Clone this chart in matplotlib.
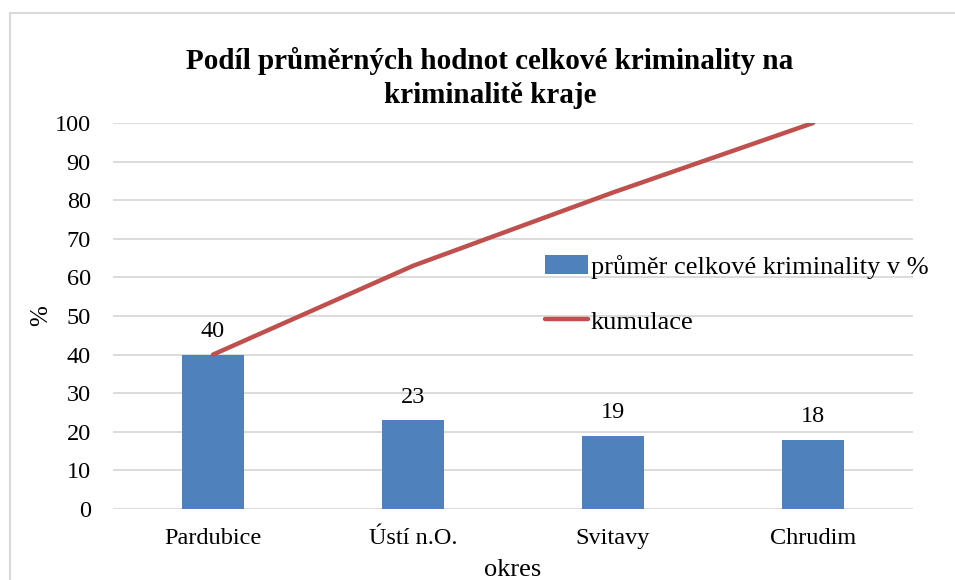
import matplotlib.pyplot as plt
from matplotlib.patches import Rectangle

categories = ["Pardubice", "Ústí n.O.", "Svitavy", "Chrudim"]
share_pct = [40, 23, 19, 18]
cumulative_pct = [40, 63, 82, 100]
yticks = list(range(0, 101, 10))

BAR_COLOR = "#4F81BD"
LINE_COLOR = "#C0504D"
GRID_COLOR = "#D9D9D9"

plt.rcParams["font.family"] = ["Liberation Serif", "DejaVu Serif"]

fig = plt.figure(figsize=(9.55, 5.8), dpi=100)
ax = fig.add_axes([113 / 955, 1 - 509 / 580, 800 / 955, 386 / 580])

# outer chart border (cut off at right and bottom like the original)
fig.patches.append(
    Rectangle((10 / 955, -0.1), 1.2, 1.1 - 13 / 580, transform=fig.transFigure,
              fill=False, edgecolor="#D9D9D9", linewidth=1.5, zorder=0)
)

x = list(range(len(categories)))
bars = ax.bar(x, share_pct, width=0.31, color=BAR_COLOR,
              label="průměr celkové kriminality v %", zorder=3)
line, = ax.plot(x, cumulative_pct, color=LINE_COLOR, linewidth=3.2,
                solid_capstyle="round", label="kumulace", zorder=4)

for rect, val in zip(bars, share_pct):
    ax.annotate(f"{val}", (rect.get_x() + rect.get_width() / 2, val),
                xytext=(0, 9), textcoords="offset points",
                ha="center", va="bottom", fontsize=17.5)

ax.set_xlim(-0.5, len(categories) - 0.5)
ax.set_ylim(0, 100)
ax.set_yticks(yticks)
ax.set_xticks(x)
ax.set_xticklabels(categories)
ax.tick_params(axis="both", length=0, labelsize=17.5)
ax.tick_params(axis="y", pad=16)
ax.tick_params(axis="x", pad=14)
ax.yaxis.grid(True, color=GRID_COLOR, linewidth=1.3, zorder=0)
ax.set_axisbelow(True)
for side in ["top", "right", "left", "bottom"]:
    ax.spines[side].set_visible(False)

ax.set_ylabel("%", fontsize=18, labelpad=2)
ax.set_xlabel("okres", fontsize=19, labelpad=7)

fig.text(0.513, 1 - 78 / 580,
         "Podíl průměrných hodnot celkové kriminality na\nkriminalitě kraje",
         ha="center", va="center", fontsize=21, fontweight="bold",
         linespacing=1.3)

ax.legend([bars, line], [bars.get_label(), line.get_label()],
          loc="upper left", frameon=False,
          fontsize=19, handlelength=1.65, handletextpad=0.1,
          labelspacing=1.2, borderaxespad=0,
          bbox_to_anchor=(534 / 955, 1 - 244 / 580),
          bbox_transform=fig.transFigure)

fig.savefig("out.png", dpi=100)
